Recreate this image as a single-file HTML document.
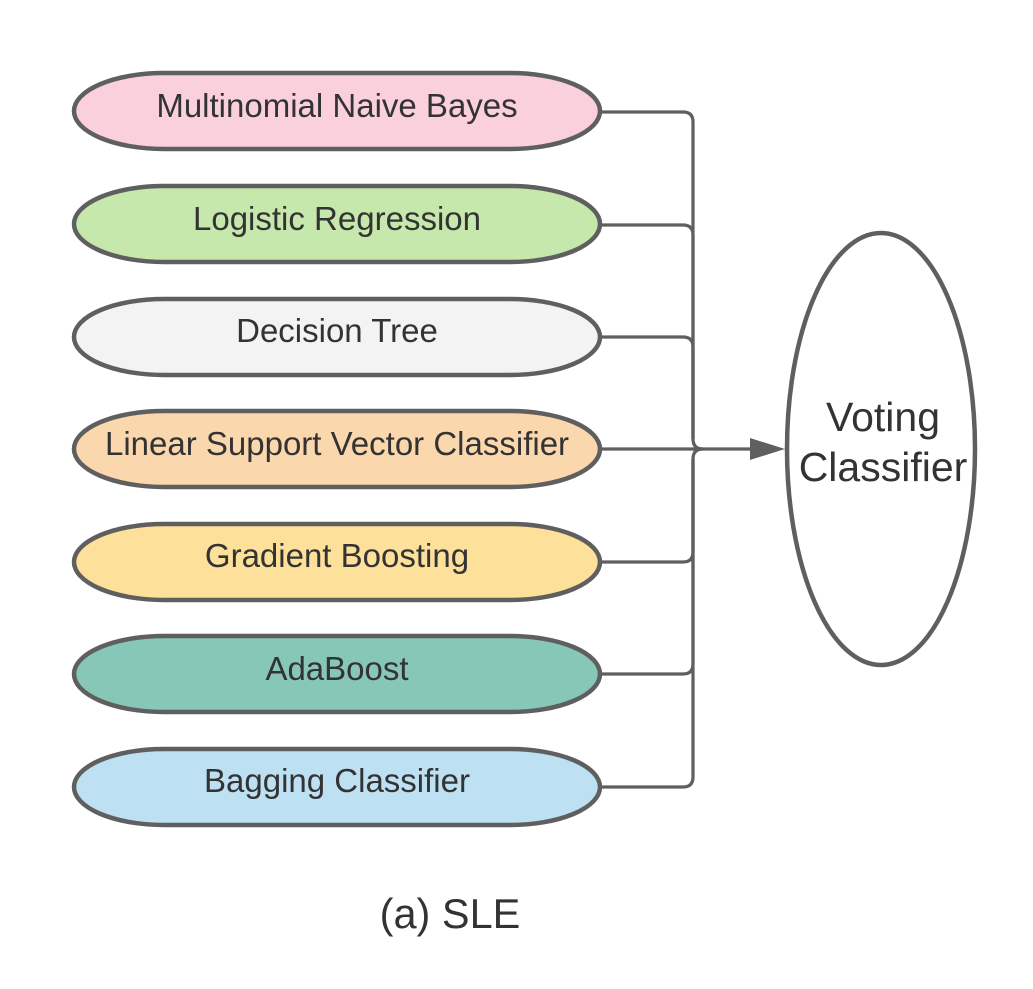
<!DOCTYPE html>
<html><head><style>body{margin:0;background:#fff}</style></head><body>
<svg width="1033" height="984" viewBox="0 0 1033 984" xmlns="http://www.w3.org/2000/svg" font-family="Liberation Sans, sans-serif">
<g fill="none" stroke="#5f5f5f" stroke-width="3.2">
<path d="M601 112 H683 Q693 112 693 122 V439 Q693 449 703 449"/>
<path d="M601 225 H683 Q693 225 693 235 V439"/>
<path d="M601 337 H683 Q693 337 693 347 V439"/>
<path d="M601 449 H752"/>
<path d="M601 562 H683 Q693 562 693 552 V459 Q693 449 703 449"/>
<path d="M601 674 H683 Q693 674 693 664 V459"/>
<path d="M601 787 H683 Q693 787 693 777 V459"/>
</g>
<polygon points="750,438 785,449 750,460" fill="#5f5f5f"/>
<g stroke="#5f5f5f" stroke-width="4.5">
<rect x="74" y="73" width="526" height="76" rx="90" ry="38" fill="#f9d0dc"/>
<rect x="74" y="186" width="526" height="76" rx="90" ry="38" fill="#c7e8ac"/>
<rect x="74" y="299" width="526" height="76" rx="90" ry="38" fill="#f3f3f3"/>
<rect x="74" y="411" width="526" height="76" rx="90" ry="38" fill="#fad7ac"/>
<rect x="74" y="524" width="526" height="76" rx="90" ry="38" fill="#fde09a"/>
<rect x="74" y="636" width="526" height="76" rx="90" ry="38" fill="#87c7b7"/>
<rect x="74" y="749" width="526" height="76" rx="90" ry="38" fill="#bde0f2"/>
<ellipse cx="881" cy="449" rx="94" ry="216" fill="#fff"/>
</g>
<g fill="#333" font-size="33" text-anchor="middle">
<text x="337" y="117">Multinomial Naive Bayes</text>
<text x="337" y="230">Logistic Regression</text>
<text x="337" y="342">Decision Tree</text>
<text x="337" y="455">Linear Support Vector Classifier</text>
<text x="337" y="567">Gradient Boosting</text>
<text x="337" y="680">AdaBoost</text>
<text x="337" y="792">Bagging Classifier</text>
<text x="883" y="431" font-size="41">Voting</text>
<text x="883" y="481" font-size="41">Classifier</text>
<text x="450" y="928" font-size="41.5">(a) SLE</text>
</g>
</svg>
</body></html>
